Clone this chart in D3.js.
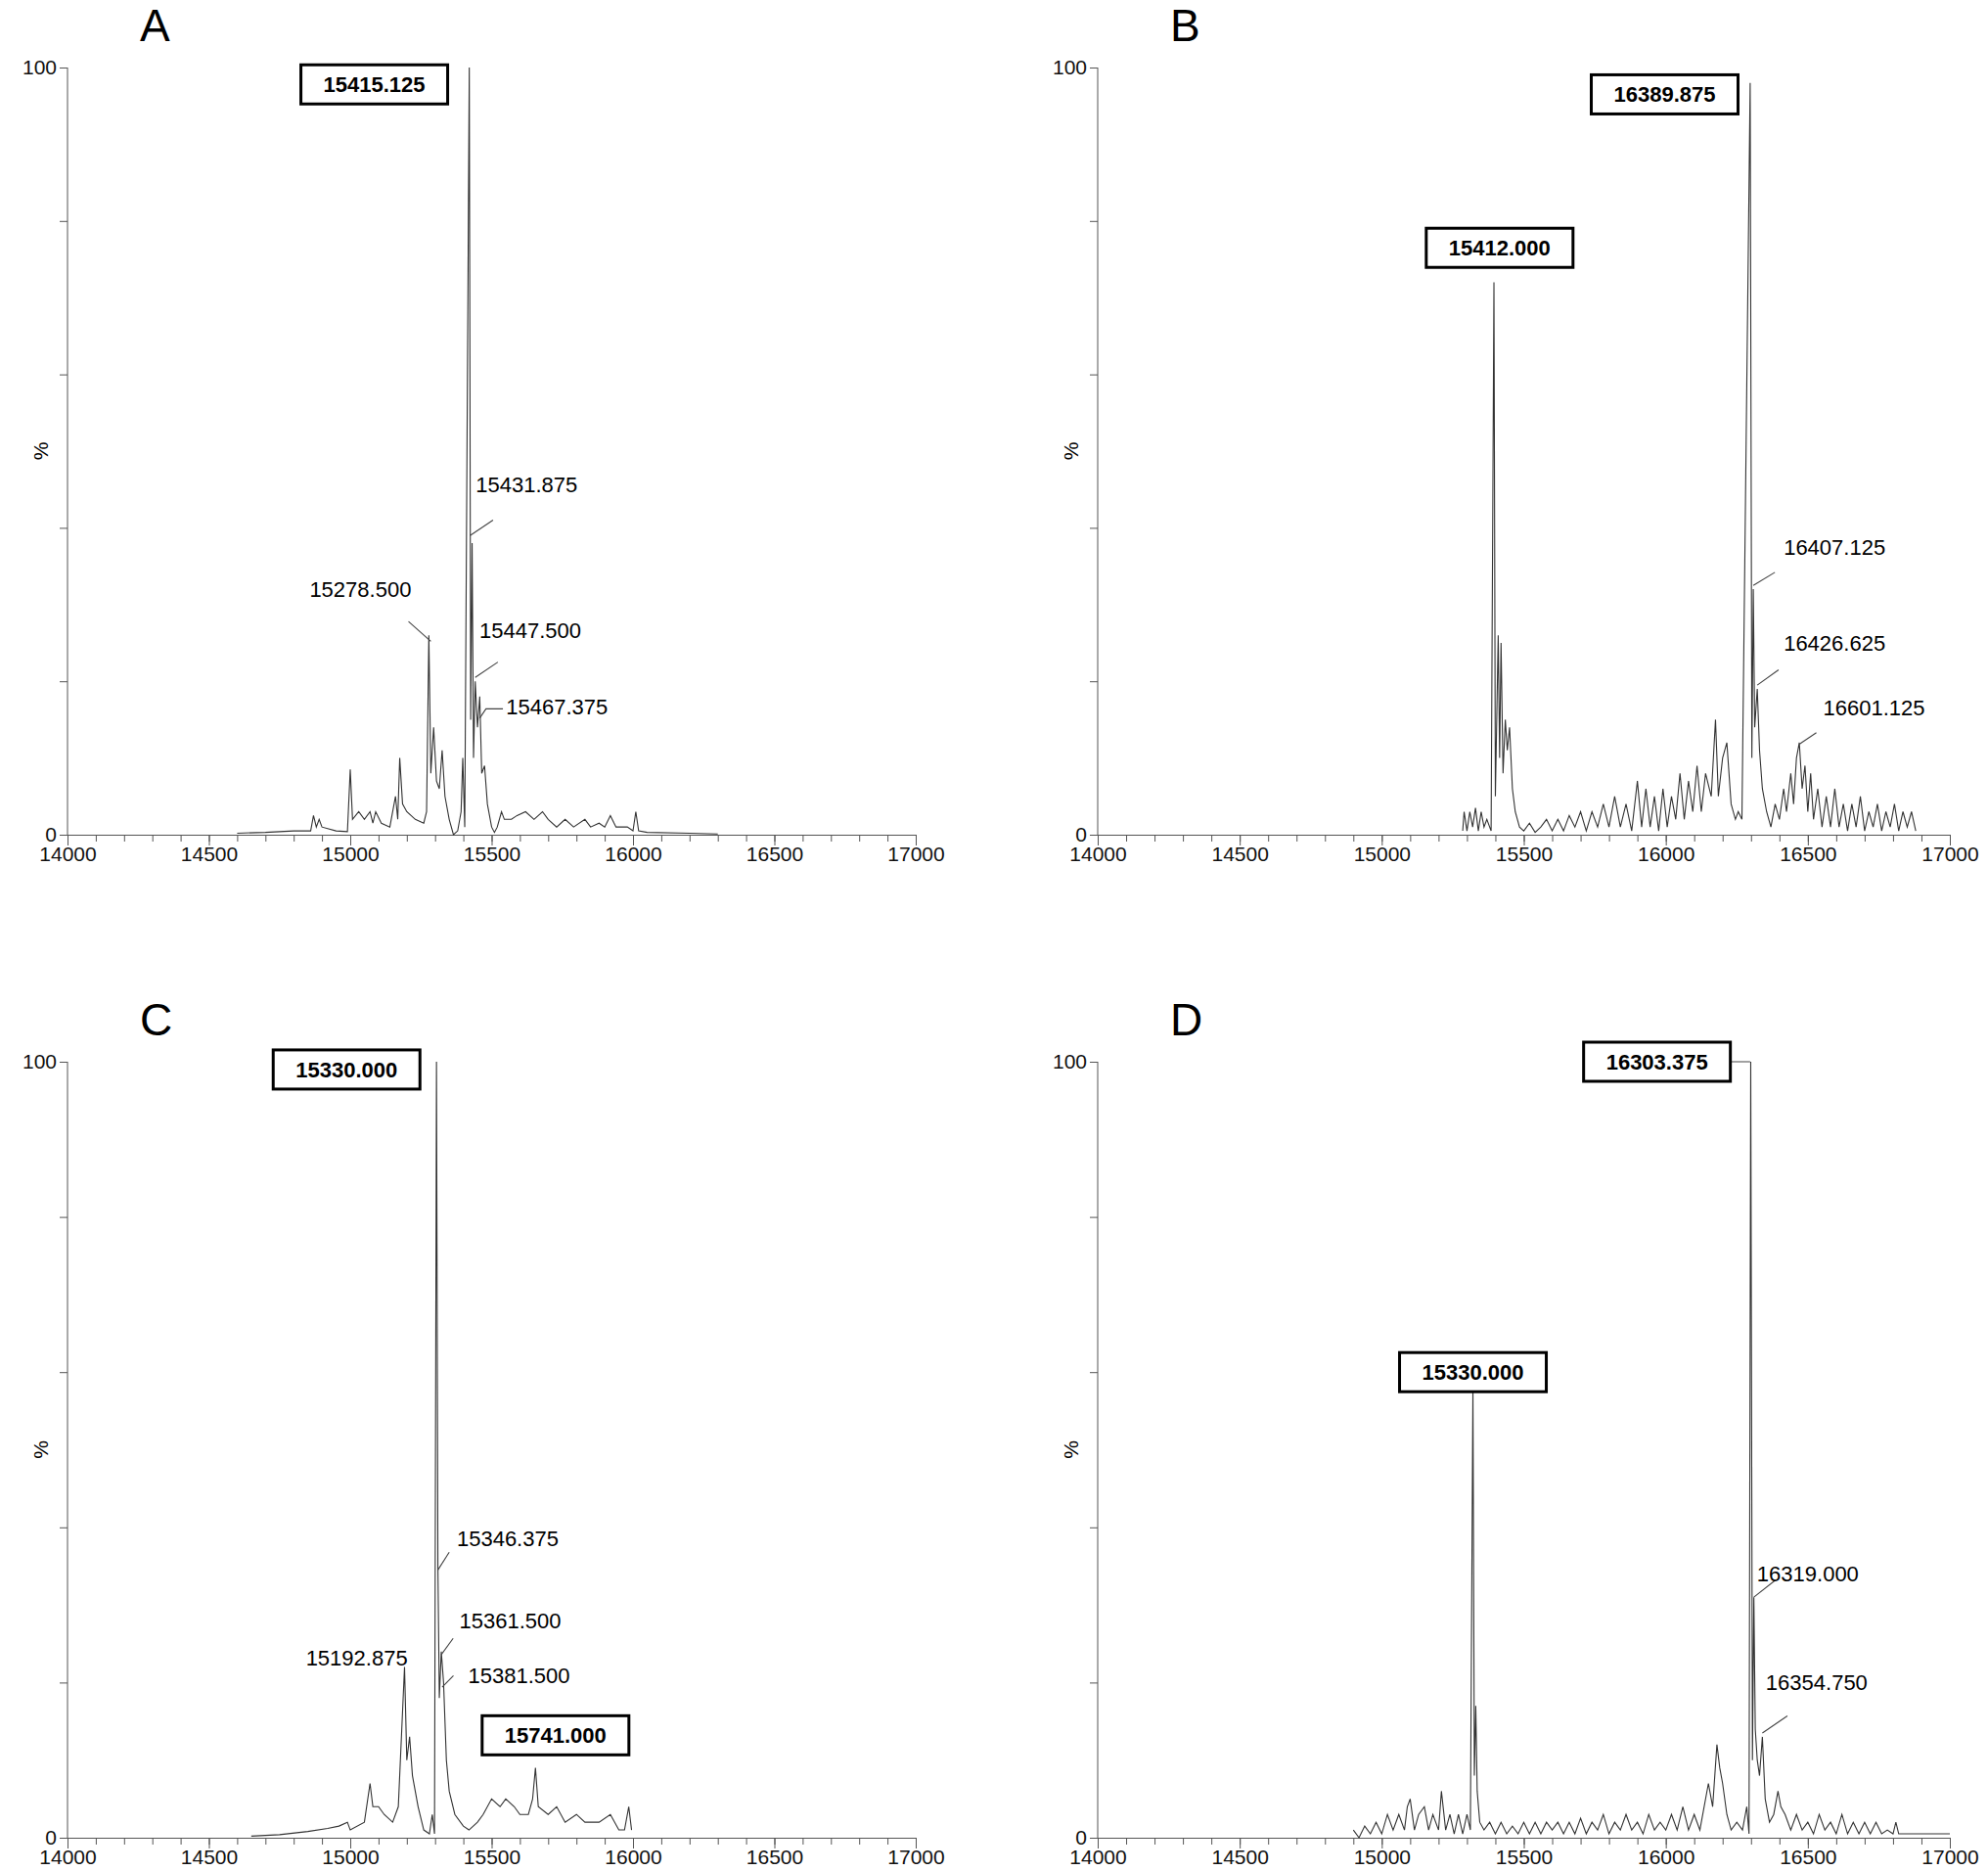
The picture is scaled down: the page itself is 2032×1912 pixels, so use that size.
<!DOCTYPE html>
<html><head><meta charset="utf-8">
<script src="https://cdn.jsdelivr.net/npm/d3@7"></script>
<style>body{margin:0;background:#fff}svg{display:block}</style></head>
<body><svg id="c" width="2032" height="1912"></svg>
<script>
const xTicks=[14000,14500,15000,15500,16000,16500,17000];
const specA=[[14600,0.2],[14700,0.3],[14800,0.5],[14860,0.5],[14870,2.5],[14880,1],[14890,2],[14900,1],[14950,0.5],[14990,0.4],[15000,8.5],[15008,2],[15030,3],[15050,2],[15070,3],[15080,1.5],[15090,3],[15110,1.5],[15140,1],[15160,5],[15168,2],[15175,10],[15185,4],[15200,3],[15230,2],[15260,1.5],[15270,3],[15278,26],[15285,8],[15295,14],[15305,7],[15315,6],[15325,11],[15335,5],[15350,2],[15365,0],[15380,0.5],[15392,3],[15398,10],[15405,1],[15421,100],[15426,15],[15431,38],[15436,10],[15442,20],[15450,14],[15458,18],[15465,8],[15475,9],[15485,4],[15500,1],[15510,0.3],[15520,1],[15535,3],[15545,2],[15570,2],[15590,2.5],[15620,3],[15650,2],[15680,3],[15700,2],[15730,1],[15760,2],[15790,1],[15830,2],[15850,1],[15880,1.5],[15900,1],[15920,2.5],[15940,1],[15980,1],[16000,0.5],[16010,3],[16020,0.5],[16050,0.3],[16200,0.2],[16300,0.1]];
const specB=[[15285,0.5],[15290,3],[15300,0.5],[15310,3],[15320,1],[15330,3.5],[15340,0.5],[15350,3],[15360,1],[15370,2],[15385,0.5],[15395,72],[15400,5],[15410,26],[15415,10],[15420,25],[15427,8],[15435,15],[15442,11],[15450,14],[15460,6],[15470,3],[15485,1],[15500,0.5],[15520,1.5],[15540,0.3],[15560,1],[15580,2],[15600,0.5],[15620,2],[15640,0.5],[15660,2.5],[15680,1],[15700,3],[15720,0.5],[15740,3],[15760,1],[15780,4],[15800,1],[15820,5],[15840,1],[15860,4],[15880,0.5],[15900,7],[15915,1],[15930,6],[15945,1],[15960,5],[15975,0.5],[15990,6],[16005,1],[16020,5],[16035,2],[16050,8],[16065,2],[16080,7],[16095,3],[16110,9],[16125,3],[16140,8],[16160,5],[16175,15],[16185,5],[16200,10],[16215,12],[16230,4],[16245,2],[16255,3],[16268,2],[16297,98],[16303,10],[16308,32],[16313,14],[16322,19],[16330,11],[16340,6],[16355,3],[16370,1],[16385,4],[16400,2],[16415,6],[16425,3],[16440,8],[16450,4],[16460,10],[16470,12],[16480,6],[16490,9],[16500,3],[16510,8],[16520,2],[16535,6],[16550,1],[16565,5],[16580,1],[16595,6],[16610,1],[16625,4],[16640,0.5],[16655,4],[16670,1],[16685,5],[16700,0.5],[16715,3],[16730,1],[16745,4],[16760,0.5],[16775,3],[16790,1],[16805,4],[16820,0.5],[16835,3],[16850,1],[16865,3],[16880,0.5]];
const specC=[[14650,0.2],[14750,0.4],[14850,0.8],[14920,1.2],[14960,1.5],[14990,2],[15000,1],[15050,2],[15070,7],[15080,4],[15100,4],[15120,3],[15150,2],[15170,4],[15192,22],[15200,10],[15210,13],[15220,8],[15240,4],[15260,1],[15280,0.5],[15290,3],[15298,0.5],[15305,100],[15310,35],[15315,18],[15322,24],[15330,20],[15340,10],[15350,6],[15370,3],[15400,1.5],[15420,1],[15450,2],[15470,3],[15500,5],[15530,4],[15550,5],[15580,4],[15600,3],[15630,3],[15645,5],[15655,9],[15665,4],[15700,3],[15730,4],[15760,2],[15800,3],[15830,2],[15880,2],[15920,3],[15950,1],[15970,1],[15985,4],[15995,1]];
const specD=[[14900,1],[14920,0],[14940,1.5],[14960,0.5],[14980,2],[15000,0.5],[15020,3],[15040,1],[15060,3],[15080,1],[15090,4],[15100,5],[15115,1],[15130,3],[15150,4],[15165,1],[15180,3],[15200,1],[15210,6],[15225,1],[15240,3],[15255,0.5],[15270,3],[15285,0.5],[15300,3],[15312,1],[15321,58],[15326,8],[15331,17],[15336,6],[15345,2],[15360,1],[15380,2],[15400,0.5],[15420,2],[15440,0.5],[15460,1.5],[15480,0.5],[15500,2],[15520,0.5],[15540,2],[15560,0.5],[15580,2],[15600,1],[15620,2],[15640,0.5],[15660,2],[15680,0.5],[15700,2.5],[15720,0.5],[15740,2],[15760,1],[15780,3],[15800,0.5],[15820,2],[15840,1],[15860,3],[15880,1],[15900,2],[15920,0.5],[15940,3],[15960,1],[15980,2],[16000,1],[16020,3],[16040,1],[16060,4],[16080,1],[16100,3],[16120,1],[16150,7],[16165,4],[16180,12],[16190,9],[16200,7],[16215,3],[16230,1],[16250,2],[16270,1],[16285,4],[16293,0.5],[16299,100],[16305,10],[16310,31],[16315,14],[16322,10],[16330,8],[16340,13],[16350,5],[16365,2],[16380,3],[16395,6],[16405,4],[16420,3],[16440,1],[16460,3],[16480,1],[16500,2],[16520,0.5],[16540,3],[16560,1],[16580,2],[16600,0.5],[16620,3],[16640,0.5],[16660,2],[16680,0.5],[16700,2],[16720,0.5],[16740,2],[16760,0.5],[16780,1],[16800,0.5],[16810,2],[16820,0.5],[17000,0.5]];
const annA=[{t:"15415.125",b:1,x:15085,y:97.8},
 {t:"15431.875",x:15444,y:44.6,l:[15424,39,15505,41]},
 {t:"15278.500",x:14856,y:31,l:[15206,27.8,15285,25.2]},
 {t:"15447.500",x:15457,y:25.6,l:[15442,20.5,15522,22.5]},
 {t:"15467.375",x:15551,y:15.7,l:[15458,15.2,15480,16.4,15540,16.4]}];
const annB=[{t:"16389.875",b:1,x:15996,y:96.5},{t:"15412.000",b:1,x:15415,y:76.5},
 {t:"16407.125",x:16415,y:36.5,l:[16308,32.5,16384,34.2]},
 {t:"16426.625",x:16415,y:24,l:[16322,19.5,16397,21.5]},
 {t:"16601.125",x:16554,y:15.5,l:[16470,11.8,16530,13.3]}];
const annC=[{t:"15330.000",b:1,x:14987,y:99},
 {t:"15346.375",x:15377,y:37.6,l:[15310,34.5,15350,36.8]},
 {t:"15361.500",x:15386,y:27,l:[15322,23.6,15364,25.7]},
 {t:"15192.875",x:14843,y:22.2},
 {t:"15381.500",x:15417,y:19.9,l:[15325,19.4,15365,20.9]},
 {t:"15741.000",b:1,x:15726,y:13.2}];
const annD=[{t:"16303.375",b:1,x:15969,y:100,l:[16086,100,16297,100]},{t:"15330.000",b:1,x:15321,y:60},
 {t:"16319.000",x:16321,y:33,l:[16310,31,16386,33.2]},
 {t:"16354.750",x:16352,y:19,l:[16340,13.5,16428,15.7]}];
const panels=[
 {L:"A",s:specA,a:annA,x0:69,x1:936,y0:853,y1:69},
 {L:"B",s:specB,a:annB,x0:1122,x1:1993,y0:853,y1:69},
 {L:"C",s:specC,a:annC,x0:69,x1:936,y0:1878,y1:1085},
 {L:"D",s:specD,a:annD,x0:1122,x1:1993,y0:1878,y1:1085}];
const svg=d3.select("#c");
const F="Liberation Sans, Arial, sans-serif";
panels.forEach(p=>{
 const x=d3.scaleLinear().domain([14000,17000]).range([p.x0,p.x1]);
 const y=d3.scaleLinear().domain([0,100]).range([p.y0,p.y1]);
 const g=svg.append("g");
 g.append("text").attr("x",p.x0+74).attr("y",p.y1-27).attr("font-family",F).attr("font-size",46).text(p.L);
 const xa=g.append("g").attr("transform",`translate(0,${p.y0})`)
  .call(d3.axisBottom(x).tickValues(d3.range(14000,17001,100)).tickSize(7).tickFormat(""));
 xa.selectAll("line").attr("stroke","#555");
 xa.select(".domain").attr("stroke","#555");
 const xb=g.append("g").attr("transform",`translate(0,${p.y0})`)
  .call(d3.axisBottom(x).tickValues(xTicks).tickSize(11).tickPadding(1).tickFormat(d3.format("d")));
 xb.select(".domain").remove();
 xb.selectAll("line").attr("stroke","#555");
 xb.selectAll("text").attr("font-family",F).attr("font-size",21).attr("fill","#111").attr("dy","0.72em");
 const ya=g.append("g").attr("transform",`translate(${p.x0},0)`)
  .call(d3.axisLeft(y).tickValues([0,20,40,60,80,100]).tickSize(8).tickFormat(d=>d===0||d===100?d:""));
 ya.select(".domain").attr("stroke","#555").attr("d",`M0,${p.y0}V${p.y1}`);
 ya.selectAll("line").attr("stroke","#555");
 ya.selectAll("text").attr("font-family",F).attr("font-size",21).attr("fill","#111");
 g.append("text").attr("transform",`translate(${p.x0-20},${y(50)}) rotate(-90)`).attr("text-anchor","middle")
  .attr("font-family",F).attr("font-size",21).text("%");
 g.append("path").datum(p.s).attr("fill","none").attr("stroke","#333").attr("stroke-width",1.1)
  .attr("d",d3.line().x(d=>x(d[0])).y(d=>y(d[1])));
 p.a.forEach(a=>{
  if(a.l){const pts=[];for(let i=0;i<a.l.length;i+=2)pts.push([x(a.l[i]),y(a.l[i+1])]);
   g.append("path").attr("d",d3.line()(pts)).attr("fill","none").attr("stroke","#444").attr("stroke-width",1.1);}
  if(a.b){
   const w=150,h=40;
   g.append("rect").attr("x",x(a.x)-w/2).attr("y",y(a.y)-h/2).attr("width",w).attr("height",h)
    .attr("fill","#fff").attr("stroke","#000").attr("stroke-width",3);
   g.append("text").attr("x",x(a.x)).attr("y",y(a.y)+8).attr("text-anchor","middle").attr("font-family",F)
    .attr("font-weight","bold").attr("font-size",22).text(a.t);
  } else {
   g.append("text").attr("x",x(a.x)).attr("y",y(a.y)).attr("font-family",F).attr("font-size",22).text(a.t);
  }
 });
});
</script></body></html>
